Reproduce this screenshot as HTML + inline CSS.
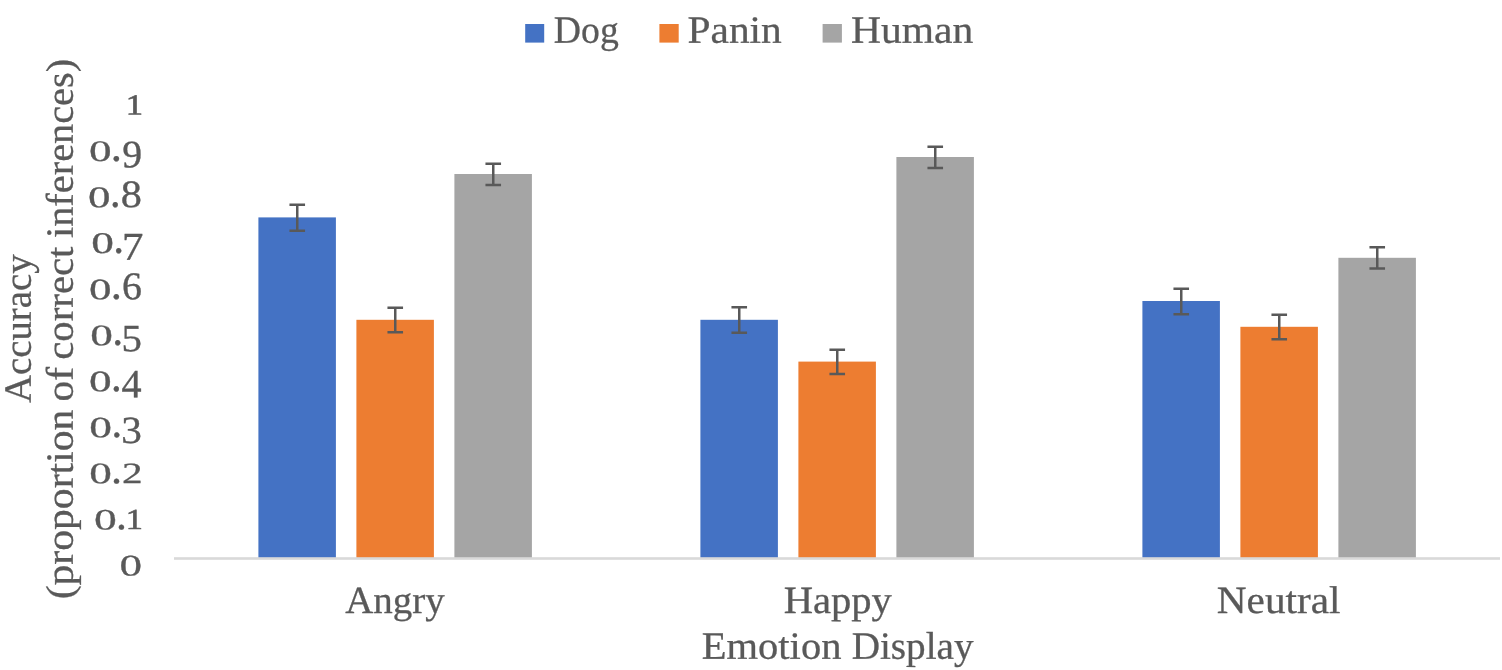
<!DOCTYPE html>
<html lang="en">
<head>
<meta charset="utf-8">
<title>Accuracy by Emotion Display</title>
<style>
html,body{margin:0;padding:0;background:#fff;}
body{width:1502px;height:670px;overflow:hidden;position:relative;}
#chart{position:absolute;left:0;top:0;width:1502px;height:670px;overflow:hidden;background:#fff;}
#chart svg{position:absolute;left:0;top:0;}
.t{position:absolute;left:0;top:0;font:38.6px "Liberation Serif", "DejaVu Serif", serif;line-height:1;white-space:nowrap;text-rendering:geometricPrecision;color:#595959;-webkit-text-stroke:0.3px #595959;transform-origin:0 0;}
.t.d{-webkit-text-stroke-width:0.35px;}
.t.d1{-webkit-text-stroke-width:0.8px;}
.rot{position:absolute;left:0;top:670px;width:0;height:0;transform:rotate(-90deg);transform-origin:0 0;}
.tick,.ln{position:absolute;left:0;top:0;width:0;height:0;}
</style>
</head>
<body>
<div id="chart">
<svg width="1502" height="670" viewBox="0 0 1502 670">
<rect x="258.40" y="217.40" width="77.5" height="341.10" fill="#4472C4"/>
<rect x="356.40" y="319.80" width="77.5" height="238.70" fill="#ED7D31"/>
<rect x="454.40" y="174.00" width="77.5" height="384.50" fill="#A5A5A5"/>
<rect x="700.40" y="319.80" width="77.5" height="238.70" fill="#4472C4"/>
<rect x="798.40" y="361.60" width="77.5" height="196.90" fill="#ED7D31"/>
<rect x="896.40" y="157.00" width="77.5" height="401.50" fill="#A5A5A5"/>
<rect x="1142.40" y="301.00" width="77.5" height="257.50" fill="#4472C4"/>
<rect x="1240.40" y="326.80" width="77.5" height="231.70" fill="#ED7D31"/>
<rect x="1338.40" y="257.80" width="77.5" height="300.70" fill="#A5A5A5"/>
<rect x="174" y="557.2" width="1326" height="2.6" fill="#D9D9D9"/>
<path d="M289.45 204.65H305.05M297.25 204.65V230.75M289.45 230.75H305.05" stroke="#595959" stroke-width="2.5" fill="none"/>
<path d="M387.45 307.65H403.05M395.25 307.65V332.35M387.45 332.35H403.05" stroke="#595959" stroke-width="2.5" fill="none"/>
<path d="M485.45 163.65H501.05M493.25 163.65V184.95M485.45 184.95H501.05" stroke="#595959" stroke-width="2.5" fill="none"/>
<path d="M731.45 307.25H747.05M739.25 307.25V332.75M731.45 332.75H747.05" stroke="#595959" stroke-width="2.5" fill="none"/>
<path d="M829.45 349.65H845.05M837.25 349.65V373.95M829.45 373.95H845.05" stroke="#595959" stroke-width="2.5" fill="none"/>
<path d="M927.45 146.65H943.05M935.25 146.65V167.95M927.45 167.95H943.05" stroke="#595959" stroke-width="2.5" fill="none"/>
<path d="M1173.45 288.65H1189.05M1181.25 288.65V314.35M1173.45 314.35H1189.05" stroke="#595959" stroke-width="2.5" fill="none"/>
<path d="M1271.45 314.85H1287.05M1279.25 314.85V339.35M1271.45 339.35H1287.05" stroke="#595959" stroke-width="2.5" fill="none"/>
<path d="M1369.45 247.25H1385.05M1377.25 247.25V268.55M1369.45 268.55H1385.05" stroke="#595959" stroke-width="2.5" fill="none"/>
<rect x="525.2" y="24" width="19.00" height="18.6" fill="#4472C4"/>
<rect x="659.4" y="24" width="19.30" height="18.6" fill="#ED7D31"/>
<rect x="822.6" y="24" width="19.30" height="18.6" fill="#A5A5A5"/>
</svg>
<div class="ln"><span class="t" style="transform:translate(553.83px,11.64px) scale(0.9774,1.0000) skewY(0.05deg)">Dog</span></div>
<div class="ln"><span class="t" style="transform:translate(687.53px,11.64px) scale(1.0729,1.0000) skewY(0.05deg)">Panin</span></div>
<div class="ln"><span class="t" style="transform:translate(850.94px,11.64px) scale(1.0762,1.0000) skewY(0.05deg)">Human</span></div>
<div class="ln"><span class="t" style="transform:translate(345.16px,581.92px) scale(1.0095,1.0000) skewY(0.05deg)">Angry</span></div>
<div class="ln"><span class="t" style="transform:translate(783.63px,581.92px) scale(1.0529,1.0000) skewY(0.05deg)">Happy</span></div>
<div class="ln"><span class="t" style="transform:translate(1216.80px,581.92px) scale(1.0694,1.0000) skewY(0.05deg)">Neutral</span></div>
<div class="ln"><span class="t" style="transform:translate(701.75px,627.72px) scale(1.0512,1.0000) skewY(0.05deg)">Emotion</span> <span class="t" style="transform:translate(851.66px,627.72px) scale(1.0160,1.0000) skewY(0.05deg)">Display</span></div>
<div class="rot"><span class="t" style="transform:translate(267.08px,-0.32px) scale(1.0048,1.0000) skewY(0.05deg)">Accuracy</span></div>
<div class="rot"><span class="t" style="transform:translate(70.69px,41.68px) scale(1.0788,1.0000) skewY(0.05deg)">(proportion</span> <span class="t" style="transform:translate(268.52px,41.68px) scale(1.0699,1.0000) skewY(0.05deg)">of</span> <span class="t" style="transform:translate(310.22px,41.68px) scale(1.0576,1.0000) skewY(0.05deg)">correct</span> <span class="t" style="transform:translate(431.96px,41.68px) scale(1.0459,1.0000) skewY(0.05deg)">inferences)</span></div>
<div class="tick"><span class="t d" style="transform:translate(119.61px,551.39px) scale(1.1722,0.7769) skewY(0.05deg)">0</span></div>
<div class="tick"><span class="t d" style="transform:translate(93.91px,505.60px) scale(1.1802,0.7676) skewY(0.05deg)">0</span><span class="t d" style="transform:translate(116.07px,494.87px) scale(1.1292,1.1054) skewY(0.05deg)">.</span><span class="t d1" style="transform:translate(125.71px,505.65px) scale(0.8894,0.7503) skewY(0.05deg)">1</span></div>
<div class="tick"><span class="t d" style="transform:translate(89.20px,459.16px) scale(1.1708,0.7739) skewY(0.05deg)">0</span><span class="t d" style="transform:translate(110.89px,448.77px) scale(1.1455,1.1095) skewY(0.05deg)">.</span><span class="t d" style="transform:translate(122.12px,459.26px) scale(1.0689,0.7620) skewY(0.05deg)">2</span></div>
<div class="tick"><span class="t d" style="transform:translate(89.32px,413.43px) scale(1.1764,0.7652) skewY(0.05deg)">0</span><span class="t d" style="transform:translate(111.42px,401.65px) scale(1.0990,1.1376) skewY(0.05deg)">.</span><span class="t d" style="transform:translate(121.32px,412.00px) scale(1.0680,0.9981) skewY(0.05deg)">3</span></div>
<div class="tick"><span class="t d" style="transform:translate(89.02px,367.26px) scale(1.1741,0.7704) skewY(0.05deg)">0</span><span class="t d" style="transform:translate(111.06px,354.53px) scale(1.1104,1.1726) skewY(0.05deg)">.</span><span class="t d" style="transform:translate(121.61px,365.00px) scale(1.0407,1.0383) skewY(0.05deg)">4</span></div>
<div class="tick"><span class="t d" style="transform:translate(90.20px,321.19px) scale(1.1732,0.7742) skewY(0.05deg)">0</span><span class="t d" style="transform:translate(112.15px,308.81px) scale(1.1298,1.1564) skewY(0.05deg)">.</span><span class="t d" style="transform:translate(121.43px,320.07px) scale(1.0579,1.0039) skewY(0.05deg)">5</span></div>
<div class="tick"><span class="t d" style="transform:translate(88.99px,275.27px) scale(1.1662,0.7704) skewY(0.05deg)">0</span><span class="t d" style="transform:translate(110.73px,262.81px) scale(1.1597,1.1582) skewY(0.05deg)">.</span><span class="t d" style="transform:translate(121.94px,267.62px) scale(1.0324,1.0174) skewY(0.05deg)">6</span></div>
<div class="tick"><span class="t d" style="transform:translate(91.21px,228.84px) scale(1.1743,0.7784) skewY(0.05deg)">0</span><span class="t d" style="transform:translate(113.13px,216.81px) scale(1.1222,1.1564) skewY(0.05deg)">.</span><span class="t d" style="transform:translate(121.98px,227.99px) scale(1.1096,1.0208) skewY(0.05deg)">7</span></div>
<div class="tick"><span class="t d" style="transform:translate(87.95px,182.99px) scale(1.1653,0.7803) skewY(0.05deg)">0</span><span class="t d" style="transform:translate(110.00px,170.65px) scale(1.0957,1.1633) skewY(0.05deg)">.</span><span class="t d" style="transform:translate(120.78px,175.83px) scale(1.0960,1.0045) skewY(0.05deg)">8</span></div>
<div class="tick"><span class="t d" style="transform:translate(89.09px,136.94px) scale(1.1700,0.7724) skewY(0.05deg)">0</span><span class="t d" style="transform:translate(110.77px,124.61px) scale(1.1613,1.1633) skewY(0.05deg)">.</span><span class="t d" style="transform:translate(122.22px,135.83px) scale(1.0271,1.0118) skewY(0.05deg)">9</span></div>
<div class="tick"><span class="t d1" style="transform:translate(125.82px,91.13px) scale(0.8987,0.7513) skewY(0.05deg)">1</span></div>
</div>
</body>
</html>
